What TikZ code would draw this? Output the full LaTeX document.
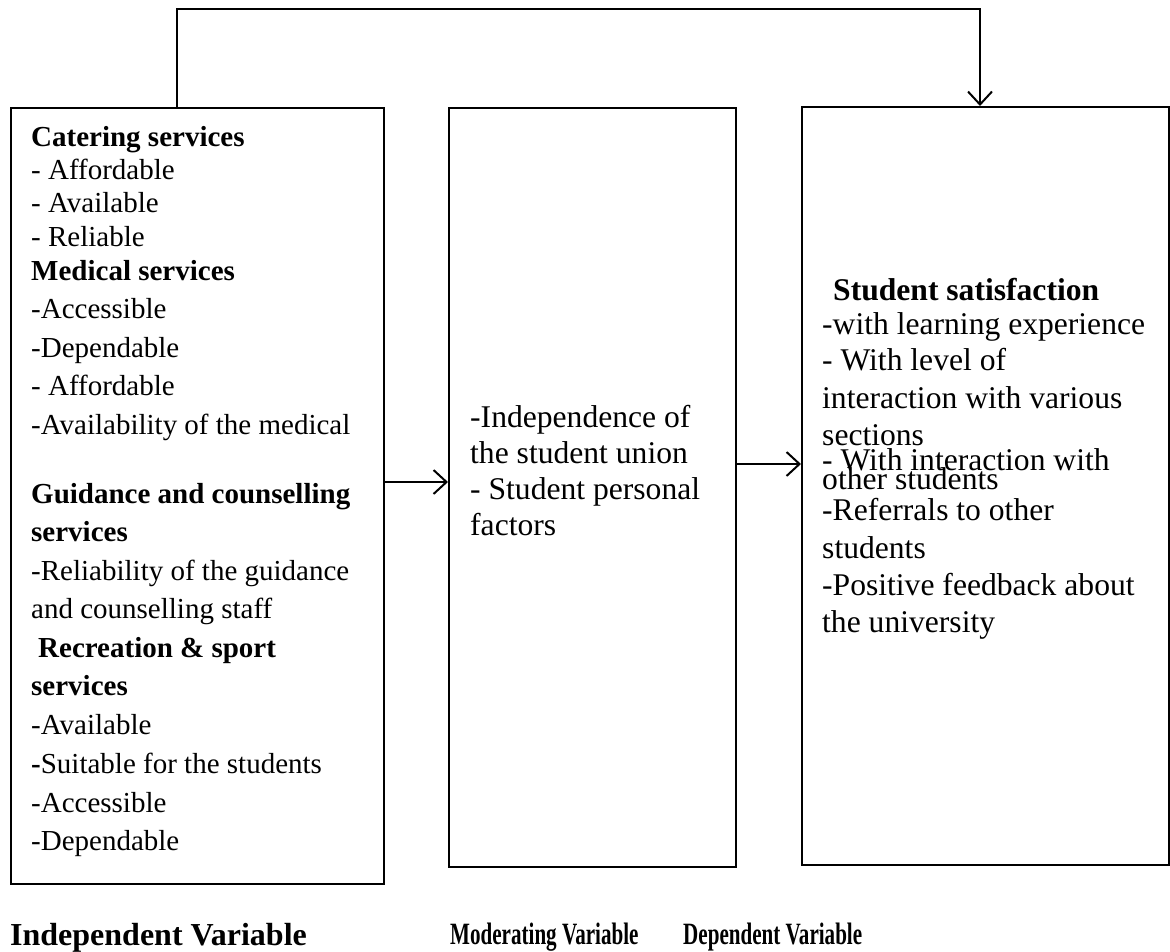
\documentclass[tikz,border=0pt]{standalone}
\usepackage{fontspec}
\setmainfont{Liberation Serif}
\usetikzlibrary{arrows.meta}
\begin{document}
\begin{tikzpicture}[x=1pt,y=-1pt,
  box/.style={draw, line width=1.7pt, inner sep=0pt, anchor=north west},
  txtS/.style={anchor=base west, inner sep=0pt, font=\fontsize{29}{34}\selectfont},
  txtL/.style={anchor=base west, inner sep=0pt, font=\fontsize{31.6}{36.3}\selectfont},
  conn/.style={line width=2pt, -{Straight Barb[length=13pt,width=24pt,line width=2pt]}},
  lblA/.style={anchor=base west, inner sep=0pt, font=\bfseries\fontsize{32}{38}\selectfont},
  lblB/.style={anchor=base west, inner sep=0pt, font=\bfseries\fontsize{31}{36}\selectfont}]
\useasboundingbox (0,0) rectangle (1170,951);

% boxes
\node[box, minimum width=373pt, minimum height=776pt] (ind) at (10,107) {};
\node[box, minimum width=287pt, minimum height=759pt] (mod) at (448,107) {};
\node[box, minimum width=367pt, minimum height=758pt] (dep) at (801,106) {};

% texts
\node[txtS] (indtext) at (31,146) {\parbox[t]{360pt}{%
\textbf{Catering services}\\[-1pt]
- Affordable\\[-1pt]
- Available\\
- Reliable\\
\textbf{Medical services}\\[4pt]
-Accessible\\[5pt]
-Dependable\\[4pt]
- Affordable\\[5pt]
-Availability of the medical\\[35pt]
\textbf{Guidance and counselling}\\[4pt]
\textbf{services}\\[5pt]
-Reliability of the guidance\\[4pt]
and counselling staff\\[5pt]
\hspace*{7pt}\textbf{Recreation \& sport}\\[4pt]
\textbf{services}\\[5pt]
-Available\\[5pt]
\textbf{-}Suitable for the students\\[5pt]
-Accessible\\[4pt]
-Dependable}};

\node[txtL] (modtext) at (470,427) {\parbox[t]{300pt}{%
-Independence of\\
the student union\\
- Student personal\\
factors}};

\node[txtL] (deptext) at (822,300) {\parbox[t]{420pt}{%
\hspace*{11pt}\textbf{Student satisfaction}\\[-2.3pt]
-with learning experience\\[-0.3pt]
- With level of\\[1.7pt]
interaction with various\\[0.7pt]
sections\\[-11.3pt]
- With interaction with\\[-17.3pt]
other students\\[-5.3pt]
-Referrals to other\\[1.7pt]
students\\[0.7pt]
-Positive feedback about\\[0.7pt]
the university}};

% bottom labels
\node[lblA] (l1) at (10,945) {Independent Variable};
\node[lblB] (l2) at (450,944) {\scalebox{0.68}[1]{Moderating Variable}};
\node[lblB] (l3) at (683,944) {\scalebox{0.68}[1]{Dependent Variable}};

% connectors
\coordinate (y1) at (0,482);
\coordinate (y2) at (0,464);
\coordinate (tl) at (177,9);
\coordinate (tr) at (980,9);
\draw[conn] (ind.east |- y1) -- (mod.west |- y1);
\draw[conn] (mod.east |- y2) -- (dep.west |- y2);
\draw[conn] (ind.north -| tl) -- (tl) -- (tr) -- (dep.north -| tr);
\end{tikzpicture}
\end{document}
